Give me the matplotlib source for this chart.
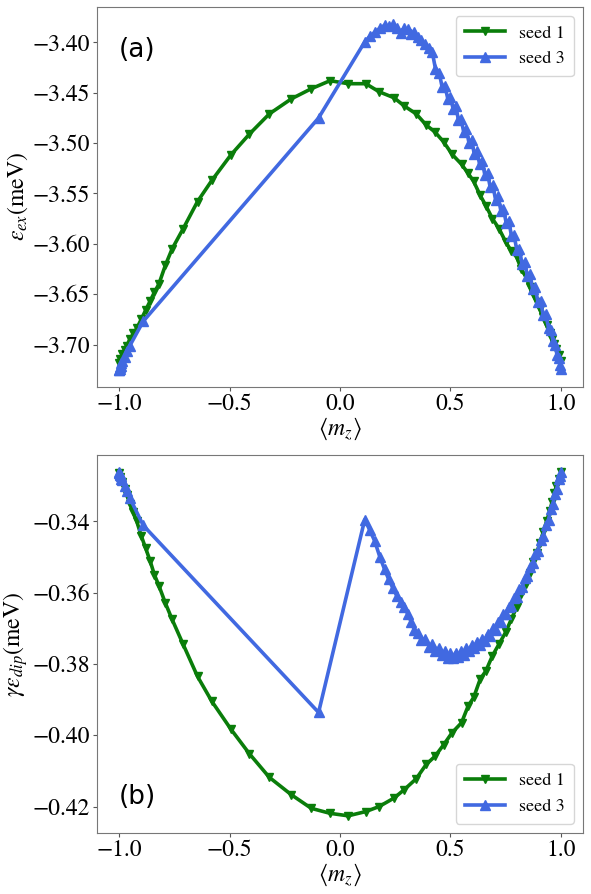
import numpy as np
import matplotlib
matplotlib.use("Agg")
import matplotlib.pyplot as plt

plt.rcParams['font.family'] = ['STIXGeneral', 'DejaVu Serif']
plt.rcParams['mathtext.fontset'] = 'stix'

# seed 1
m1 = [-1.0, -0.995, -0.985, -0.975, -0.965, -0.95, -0.935, -0.92, -0.90, -0.88,
      -0.86, -0.84, -0.82, -0.79, -0.76, -0.71, -0.645, -0.58, -0.495, -0.41,
      -0.32, -0.22, -0.13, -0.045, 0.037, 0.117, 0.177, 0.245, 0.29, 0.345,
      0.39, 0.43, 0.47, 0.507, 0.55, 0.58, 0.605, 0.635, 0.66, 0.69,
      0.72, 0.75, 0.775, 0.80, 0.82, 0.84, 0.86, 0.875, 0.89, 0.905,
      0.92, 0.935, 0.95, 0.96, 0.97, 0.98, 0.99, 1.0]
ex1 = [-3.718, -3.714, -3.709, -3.705, -3.701, -3.694, -3.689, -3.684, -3.675, -3.666,
       -3.657, -3.648, -3.640, -3.621, -3.605, -3.585, -3.558, -3.537, -3.512, -3.491,
       -3.471, -3.456, -3.446, -3.438, -3.441, -3.441, -3.449, -3.455, -3.463, -3.471,
       -3.482, -3.489, -3.499, -3.511, -3.521, -3.530, -3.538, -3.552, -3.562, -3.575,
       -3.585, -3.598, -3.607, -3.613, -3.625, -3.632, -3.643, -3.650, -3.658, -3.665,
       -3.673, -3.681, -3.689, -3.694, -3.699, -3.704, -3.710, -3.716]
dip1 = [-0.3265, -0.3275, -0.3290, -0.3310, -0.3325, -0.3350, -0.3375, -0.3400, -0.3440, -0.3475,
        -0.3510, -0.3550, -0.3580, -0.3630, -0.3675, -0.3745, -0.3835, -0.3905, -0.3982, -0.4052,
        -0.4118, -0.4167, -0.4205, -0.4219, -0.4226, -0.4214, -0.4200, -0.4176, -0.4153, -0.4122,
        -0.4082, -0.4059, -0.4026, -0.3993, -0.3965, -0.3918, -0.3894, -0.3842, -0.3820, -0.3777,
        -0.3744, -0.3711, -0.3675, -0.3640, -0.3605, -0.3575, -0.3545, -0.3515, -0.3490, -0.3460,
        -0.3430, -0.3400, -0.3370, -0.3345, -0.3320, -0.3300, -0.3280, -0.3262]

# seed 3
m3 = [-1.0, -0.999, -0.998, -0.996, -0.993, -0.99, -0.985, -0.975, -0.965, -0.951,
      -0.891, -0.097, 0.112, 0.135, 0.157, 0.18, 0.202, 0.22, 0.24, 0.258,
      0.276, 0.29, 0.307, 0.322, 0.337, 0.352, 0.366, 0.385, 0.404, 0.418,
      0.432, 0.449, 0.462, 0.475, 0.488, 0.5, 0.512, 0.524, 0.536, 0.548,
      0.56, 0.572, 0.584, 0.596, 0.608, 0.62, 0.632, 0.644, 0.656, 0.668,
      0.68, 0.692, 0.704, 0.716, 0.728, 0.74, 0.752, 0.764, 0.776, 0.788,
      0.8, 0.812, 0.824, 0.836, 0.848, 0.86, 0.872, 0.884, 0.896, 0.908,
      0.92, 0.932, 0.944, 0.954, 0.964, 0.974, 0.982, 0.99, 0.995, 1.0]
ex3 = [-3.725, -3.725, -3.724, -3.722, -3.721, -3.718, -3.716, -3.712, -3.706, -3.701,
       -3.677, -3.475, -3.3995, -3.394, -3.390, -3.386, -3.383, -3.384, -3.382, -3.386,
       -3.391, -3.386, -3.387, -3.392, -3.390, -3.395, -3.398, -3.402, -3.406, -3.410,
       -3.426, -3.430, -3.444, -3.443, -3.456, -3.454, -3.466, -3.463, -3.477, -3.476,
       -3.489, -3.486, -3.500, -3.497, -3.511, -3.508, -3.521, -3.518, -3.532, -3.530,
       -3.544, -3.542, -3.556, -3.553, -3.567, -3.565, -3.579, -3.577, -3.592, -3.591,
       -3.606, -3.605, -3.620, -3.618, -3.632, -3.630, -3.645, -3.643, -3.658, -3.657,
       -3.671, -3.670, -3.684, -3.686, -3.696, -3.700, -3.710, -3.713, -3.720, -3.724]
dip3 = [-0.3265, -0.3262, -0.3268, -0.3270, -0.3274, -0.3280, -0.3285, -0.3300, -0.3315, -0.3335,
        -0.3411, -0.3936, -0.3395, -0.3425, -0.3455, -0.3499, -0.3535, -0.3562, -0.3588, -0.3610,
        -0.3625, -0.3640, -0.3660, -0.3682, -0.3705, -0.3712, -0.3732, -0.3730, -0.3752, -0.3745,
        -0.3765, -0.3756, -0.3775, -0.3765, -0.3782, -0.3770, -0.3783, -0.3768, -0.3781, -0.3764,
        -0.3774, -0.3756, -0.3765, -0.3748, -0.3756, -0.3738, -0.3746, -0.3729, -0.3736, -0.3716,
        -0.3722, -0.3700, -0.3704, -0.3683, -0.3683, -0.3660, -0.3660, -0.3640, -0.3638, -0.3616,
        -0.3613, -0.3590, -0.3585, -0.3560, -0.3552, -0.3528, -0.3518, -0.3492, -0.3482, -0.3452,
        -0.3440, -0.3410, -0.3395, -0.3365, -0.3350, -0.3322, -0.3308, -0.3282, -0.3274, -0.3262]

c1 = '#0a7d0a'
c3 = 'royalblue'

fig = plt.figure(figsize=(5.91, 8.94), dpi=100)
ax1 = fig.add_axes([97 / 591, 1 - 387 / 894, 486 / 591, 380 / 894])
ax2 = fig.add_axes([97 / 591, 1 - 833 / 894, 486 / 591, 378 / 894])

for ax, y1, y3, lab, yl, loc in [
        (ax1, ex1, ex3, '(a)', r'$\varepsilon_{ex}$(meV)', 'upper right'),
        (ax2, dip1, dip3, '(b)', r'$\gamma\varepsilon_{dip}$(meV)', 'lower right')]:
    ax.plot(m1, y1, color=c1, marker='v', ms=6, lw=2.6, label='seed 1')
    ax.plot(m3, y3, color=c3, marker='^', ms=6.5, lw=2.6, label='seed 3')
    ax.set_xlabel(r'$\langle m_z \rangle$', fontsize=17, labelpad=0)
    ax.set_ylabel(yl, fontsize=17, labelpad=2)
    ax.tick_params(labelsize=17, length=3, color='#555555', pad=2)
    for s in ax.spines.values():
        s.set_color('#777777')
    ax.set_xticks([-1.0, -0.5, 0.0, 0.5, 1.0])
    ax.legend(loc=loc, fontsize=13, numpoints=1, handlelength=2.2, borderpad=0.5)
    ty = 0.887 if lab == '(a)' else 0.095
    ax.text(0.045, ty, lab, transform=ax.transAxes, fontsize=19,
            family='DejaVu Sans', va='center', ha='left')

ax1.set_yticks([-3.40, -3.45, -3.50, -3.55, -3.60, -3.65, -3.70])
ax2.set_yticks([-0.34, -0.36, -0.38, -0.40, -0.42])

fig.savefig('out.png', dpi=100)
